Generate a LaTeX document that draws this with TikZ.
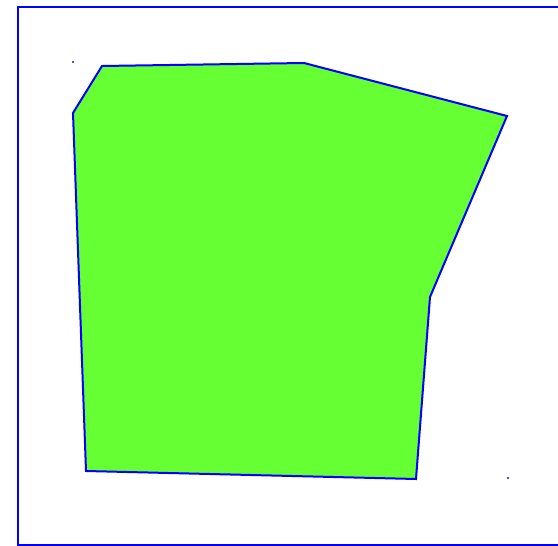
\documentclass[tikz,border=0pt]{standalone}
\definecolor{polyfill}{HTML}{66FF33}
\begin{document}
\begin{tikzpicture}[x=1pt,y=-1pt,
  frame/.style={draw=blue,line width=2pt},
  poly/.style={draw=blue,fill=polyfill,line width=2pt,line join=miter},
  pt/.style={fill=blue!70,inner sep=0pt,minimum size=1.5pt,draw=none}]
\useasboundingbox (0,0) rectangle (558,546);
\begin{scope}
\clip (0,0) rectangle (558,546);
\draw[frame] (18,7) rectangle (562,545);
\end{scope}
\coordinate (a) at (102,66);
\coordinate (b) at (304,63);
\coordinate (c) at (507,116);
\coordinate (d) at (430,297);
\coordinate (e) at (416,479);
\coordinate (f) at (86,471);
\coordinate (g) at (73,113);
\draw[poly] (a) -- (b) -- (c) -- (d) -- (e) -- (f) -- (g) -- cycle;
\node[pt] (p1) at (73,62) {};
\node[pt] (p2) at (508,478) {};
\end{tikzpicture}
\end{document}
